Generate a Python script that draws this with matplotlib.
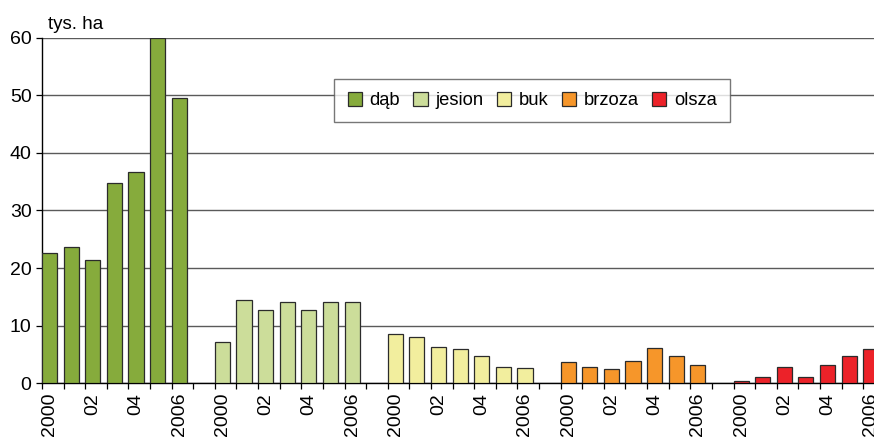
import numpy as np
import matplotlib.pyplot as plt

plt.rcParams["font.family"] = ["Liberation Sans", "DejaVu Sans"]
plt.rcParams["font.size"] = 13

years = ["2000", "", "02", "", "04", "", "2006"]
species = ["dąb", "jesion", "buk", "brzoza", "olsza"]
colors = ["#86ab3c", "#ccdd9a", "#f2ee9e", "#f6962a", "#ec2229"]

dab = [22.7, 23.7, 21.4, 34.7, 36.6, 60.0, 49.5]
jesion = [7.2, 14.4, 12.8, 14.1, 12.7, 14.1, 14.1]
buk = [8.6, 8.0, 6.3, 6.0, 4.8, 2.8, 2.65]
brzoza = [3.7, 2.8, 2.5, 3.8, 6.2, 4.7, 3.1]
olsza = [0.35, 1.0, 2.8, 1.15, 3.1, 4.7, 5.9]
series = [dab, jesion, buk, brzoza, olsza]

fig = plt.figure(figsize=(8.74, 4.41), dpi=100)
ax = fig.add_axes([0.048, 0.131, 0.952, 0.7835])

bar_w = 0.7
label_pos = []
label_txt = []
for g, (vals, name, col) in enumerate(zip(series, species, colors)):
    x = np.arange(len(vals)) + g * 8
    ax.bar(x, vals, width=bar_w, align="edge", color=col,
           edgecolor="#2b2b2b", linewidth=0.9, label=name, zorder=3)
    label_pos.extend(x + bar_w / 2)
    label_txt.extend(years)

ax.set_xlim(0, 38.5)
ax.set_ylim(0, 60)
ax.set_yticks(range(0, 61, 10))
ax.yaxis.grid(True, color="#5a5a5a", linewidth=1)
ax.set_axisbelow(True)

# slot boundaries get the tick marks, year labels sit under the bars
ax.set_xticks(np.arange(0, 39))
ax.set_xticklabels([])
ax.set_xticks(label_pos, minor=True)
ax.set_xticklabels(label_txt, minor=True, rotation=90, fontsize=14)
ax.tick_params(axis="x", which="major", length=4, width=0.9, direction="out")
ax.tick_params(axis="x", which="minor", length=0, pad=7)
ax.tick_params(axis="y", length=4, width=0.9, labelsize=14)

for s in ["top", "right"]:
    ax.spines[s].set_visible(False)
ax.spines["left"].set_linewidth(1.0)
ax.spines["bottom"].set_linewidth(1.0)

fig.text(0.055, 0.945, "tys. ha", fontsize=13.5, ha="left", va="center")

leg = ax.legend(ncol=5, loc="center", bbox_to_anchor=(0.589, 0.818),
                handlelength=0.8, handleheight=0.8, handletextpad=0.4,
                columnspacing=0.72, fancybox=False, edgecolor="#555555",
                borderpad=0.72, fontsize=13.2)
leg.get_frame().set_linewidth(1.0)
leg.set_zorder(5)

fig.savefig("out.png", dpi=100)
